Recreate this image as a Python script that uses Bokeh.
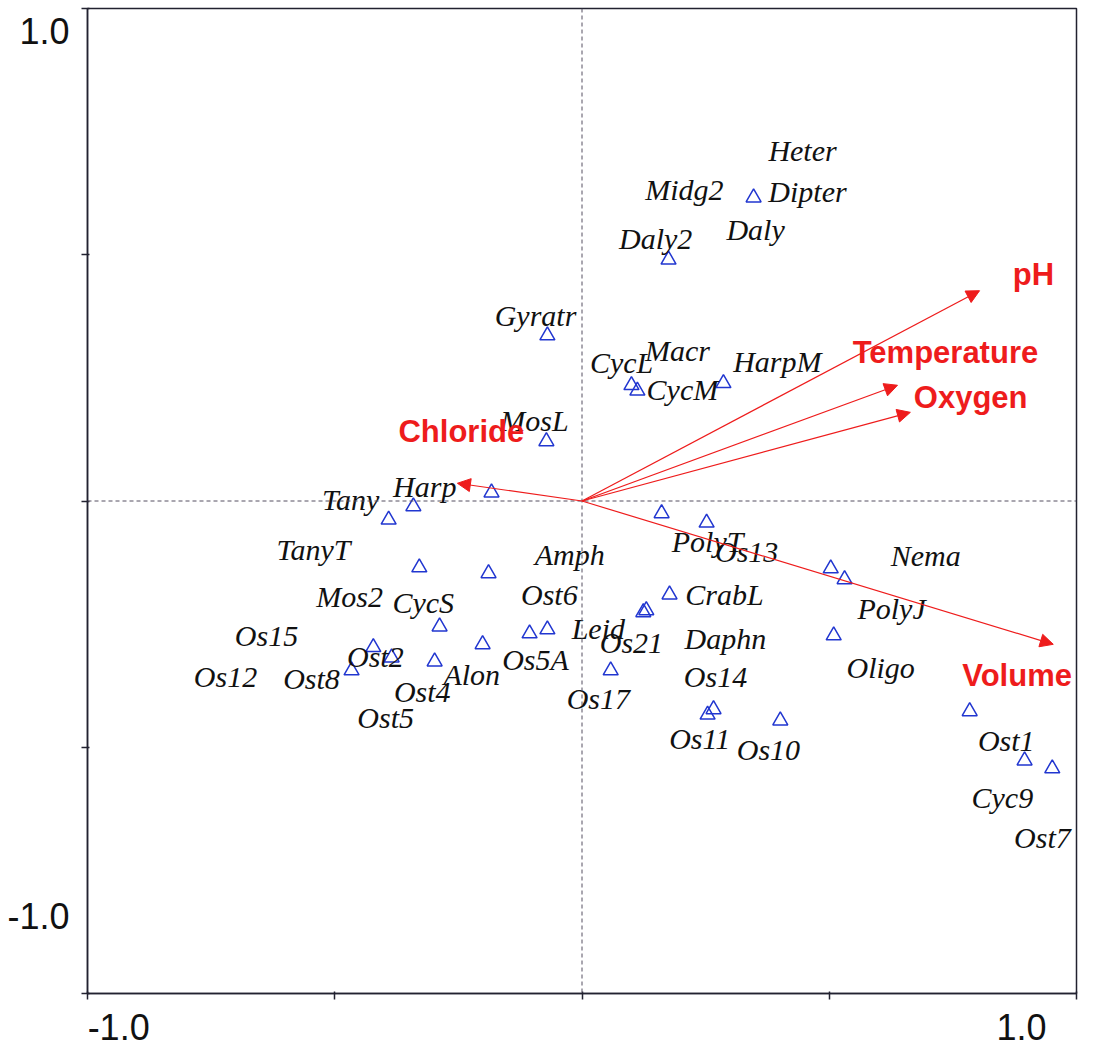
from bokeh.plotting import figure
from bokeh.models import (ColumnDataSource, Span, Arrow, NormalHead, LabelSet,
                          FixedTicker, Range1d, CustomJSTickFormatter)
from bokeh.embed import file_html
from bokeh.resources import INLINE
from bokeh.core.properties import value

# ---- sample / species points (blue triangles) ----
pt_x = [0.347, 0.175, -0.070, 0.100, 0.112, 0.286, -0.072, -0.183, -0.341, -0.391,
        0.161, 0.252, -0.329, -0.189, 0.503, 0.531, 0.177, 0.124, 0.130, -0.288,
        -0.106, -0.070, 0.509, -0.201, -0.422, -0.385, -0.466, -0.298, 0.058, 0.254,
        0.266, 0.401, 0.784, 0.895, 0.951]
pt_y = [0.616, 0.490, 0.336, 0.235, 0.224, 0.239, 0.121, 0.017, -0.011, -0.038,
        -0.025, -0.044, -0.135, -0.147, -0.137, -0.159, -0.190, -0.226, -0.222, -0.255,
        -0.269, -0.261, -0.273, -0.291, -0.297, -0.318, -0.344, -0.326, -0.344, -0.434,
        -0.423, -0.446, -0.427, -0.527, -0.543]

# ---- species labels ----
species = ["Heter", "Midg2", "Dipter", "Daly", "Daly2", "Gyratr", "Macr", "CycL",
           "HarpM", "CycM", "MosL", "Harp", "Tany", "TanyT", "PolyT", "Os13", "Amph",
           "Nema", "Mos2", "CycS", "Ost6", "CrabL", "PolyJ", "Leid", "Os15", "Daphn",
           "Os21", "Ost2", "Os5A", "Oligo", "Alon", "Os12", "Os14", "Ost8", "Ost4",
           "Os17", "Ost5", "Os11", "Ost1", "Os10", "Cyc9", "Ost7"]
sp_x = [0.446, 0.207, 0.456, 0.351, 0.149, -0.094, 0.193, 0.080,
        0.395, 0.203, -0.096, -0.318, -0.468, -0.543, 0.254, 0.333, -0.025,
        0.695, -0.470, -0.321, -0.066, 0.288, 0.626, 0.033, -0.638, 0.290,
        0.100, -0.418, -0.094, 0.604, -0.223, -0.721, 0.270, -0.547, -0.323,
        0.033, -0.397, 0.238, 0.858, 0.377, 0.850, 0.931]
sp_y = [0.712, 0.632, 0.628, 0.551, 0.533, 0.377, 0.306, 0.281,
        0.283, 0.226, 0.163, 0.029, 0.003, -0.098, -0.082, -0.103, -0.109,
        -0.111, -0.194, -0.206, -0.190, -0.190, -0.218, -0.259, -0.273, -0.279,
        -0.287, -0.316, -0.322, -0.338, -0.352, -0.356, -0.356, -0.360, -0.387,
        -0.401, -0.440, -0.482, -0.486, -0.505, -0.602, -0.683]

# ---- environmental variables (arrows) ----
env_names = ["pH", "Temperature", "Oxygen", "Chloride", "Volume"]
env_x = [0.804, 0.638, 0.664, -0.252, 0.953]
env_y = [0.427, 0.235, 0.180, 0.036, -0.291]
env_lab_x = [0.913, 0.735, 0.786, -0.244, 0.880]
env_lab_y = [0.460, 0.302, 0.210, 0.141, -0.354]

# ---- axes ----
axis_ticks = [-1.0, -0.5, 0.0, 0.5, 1.0]
x_label_pos = [-0.937, 0.889]
y_label_pos = [-0.842, 0.955]

RED = "#ee1c1c"
BLUE = "#2136d0"
AXIS = "#222230"

p = figure(frame_width=989, frame_height=985,
           x_range=Range1d(-1, 1), y_range=Range1d(-1, 1),
           output_backend="svg", toolbar_location=None,
           min_border_left=87, min_border_right=14, min_border_top=8,
           min_border_bottom=54)
p.xgrid.visible = False
p.ygrid.visible = False
p.outline_line_color = AXIS
p.outline_line_width = 1.5
p.background_fill_color = "white"
p.border_fill_color = "white"

fmt = CustomJSTickFormatter(code="return tick < 0 ? '-1.0' : '1.0';")
for ax, pos, standoff in ((p.xaxis[0], x_label_pos, 14), (p.yaxis[0], y_label_pos, 12)):
    ax.ticker = FixedTicker(ticks=pos, minor_ticks=axis_ticks)
    ax.formatter = fmt
    ax.major_tick_out = 0
    ax.major_tick_in = 0
    ax.major_tick_line_color = None
    ax.minor_tick_out = 6
    ax.minor_tick_in = 2
    ax.minor_tick_line_color = AXIS
    ax.minor_tick_line_width = 1.5
    ax.axis_line_color = AXIS
    ax.axis_line_width = 1.5
    ax.major_label_text_font = "Liberation Sans"
    ax.major_label_text_font_size = "36px"
    ax.major_label_text_color = "#111111"
    ax.major_label_standoff = standoff

# dashed zero lines
p.add_layout(Span(location=0, dimension="height", line_color="#554f60",
                  line_width=1, line_dash="4 3"))
p.add_layout(Span(location=0, dimension="width", line_color="#554f60",
                  line_width=1, line_dash="4 3"))

# triangles
p.scatter(x=pt_x, y=pt_y, marker="triangle", size=15, fill_color=None,
          line_color=BLUE, line_width=1.5)

# species labels
sp_src = ColumnDataSource(dict(x=sp_x, y=sp_y, name=species))
p.text(x="x", y="y", text="name", source=sp_src,
       text_font=value("Liberation Serif"), text_font_style="italic",
       text_font_size="30px", text_align="center", text_baseline="middle",
       text_color="#111111")

# arrows
arr_src = ColumnDataSource(dict(x0=[0.0] * len(env_x), y0=[0.0] * len(env_y),
                                x1=env_x, y1=env_y))
p.add_layout(Arrow(end=NormalHead(size=13, fill_color=RED, line_color=RED, line_width=1),
                   x_start="x0", y_start="y0", x_end="x1", y_end="y1",
                   source=arr_src, line_color=RED, line_width=1.2))

# environmental labels
env_src = ColumnDataSource(dict(x=env_lab_x, y=env_lab_y, name=env_names))
p.add_layout(LabelSet(x="x", y="y", text="name", source=env_src,
                      text_font=value("Liberation Sans"), text_font_style="bold",
                      text_font_size="31px", text_align="center",
                      text_baseline="middle", text_color=RED))

open("out.html", "w").write(file_html(p, INLINE))
